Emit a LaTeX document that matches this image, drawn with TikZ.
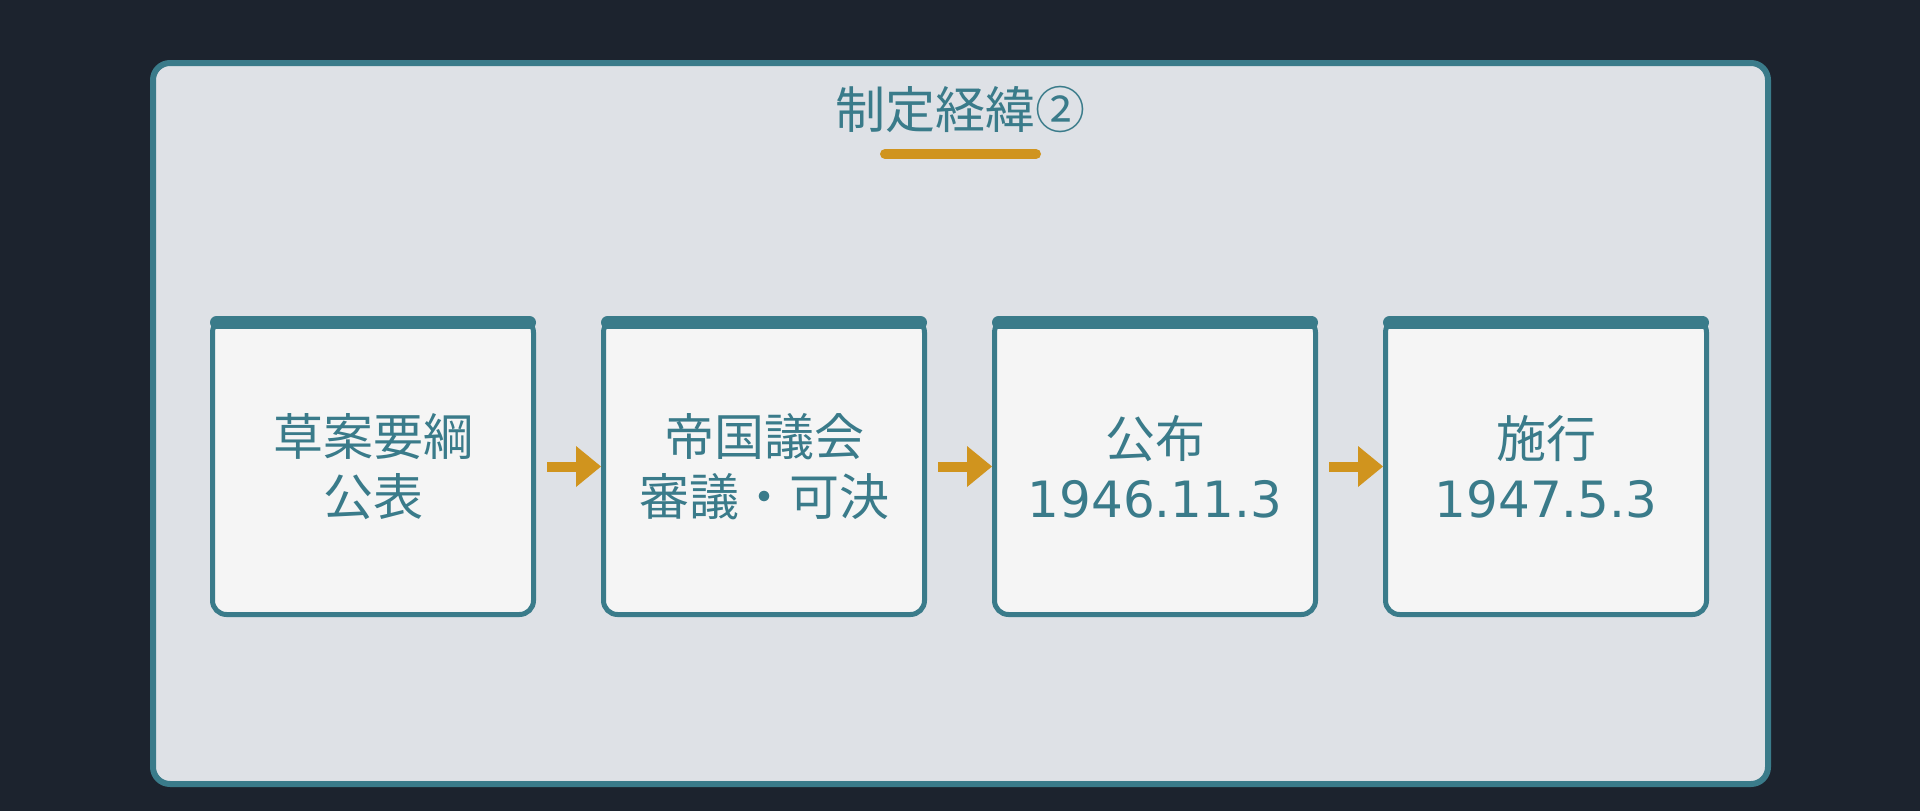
\documentclass[tikz,border=0pt]{standalone}
\usepackage{fontspec}
\newfontfamily\jp{Noto Sans CJK JP}
\newfontfamily\digits{DejaVu Sans}
\usetikzlibrary{arrows.meta}
\definecolor{bgdark}{HTML}{1C232E}
\definecolor{tealc}{HTML}{3A7B8A}
\definecolor{framefill}{HTML}{DEE1E6}
\definecolor{boxfill}{HTML}{F5F5F5}
\definecolor{arrowc}{HTML}{D0941E}
\begin{document}
\begin{tikzpicture}[x=1pt,y=-1pt,
  stepbox/.style={draw=tealc, fill=boxfill, line width=5pt, rounded corners=14pt,
    minimum width=321pt, minimum height=296pt, inner sep=0pt, align=center,
    text=tealc, font=\jp\fontsize{50}{60}\selectfont},
  topbar/.style={draw=tealc, line width=13pt, line cap=round},
  flow/.style={draw=arrowc, line width=10pt,
    -{Triangle[length=25pt,width=41pt,line width=0pt]}},
]
\useasboundingbox (0,0) rectangle (1920,811);
\fill[bgdark] (0,0) rectangle (1920,811);
\node[draw=tealc, fill=framefill, line width=6pt, rounded corners=17pt,
  minimum width=1615pt, minimum height=721pt, inner sep=0pt] (frame) at (960.5,423.5) {};
\node[text=tealc, font=\jp\fontsize{50}{60}\selectfont, anchor=base, inner sep=0pt] (title) at (960,128) {制定経緯②};
\coordinate (ulA) at (885,154);
\coordinate (ulB) at (1036,154);
\draw[draw=arrowc, line width=10pt, line cap=round] (ulA) -- (ulB);

\node[stepbox] (b1) at (373,466.5) {草案要綱\\公表};
\node[stepbox] (b2) at (764,466.5) {帝国議会\\審議・可決};
\node[stepbox] (b3) at (1155,466.5) {公布\\{\digits 1946.11.3}};
\node[stepbox] (b4) at (1546,466.5) {施行\\{\digits 1947.5.3}};

\foreach \b in {b1,b2,b3,b4}{
  \draw[topbar] ([xshift=6.5pt,yshift=-6.5pt]\b.north west) -- ([xshift=-6.5pt,yshift=-6.5pt]\b.north east);
}
\draw[flow] ([xshift=11pt]b1.east) -- (b2.west);
\draw[flow] ([xshift=11pt]b2.east) -- (b3.west);
\draw[flow] ([xshift=11pt]b3.east) -- (b4.west);
\end{tikzpicture}
\end{document}
